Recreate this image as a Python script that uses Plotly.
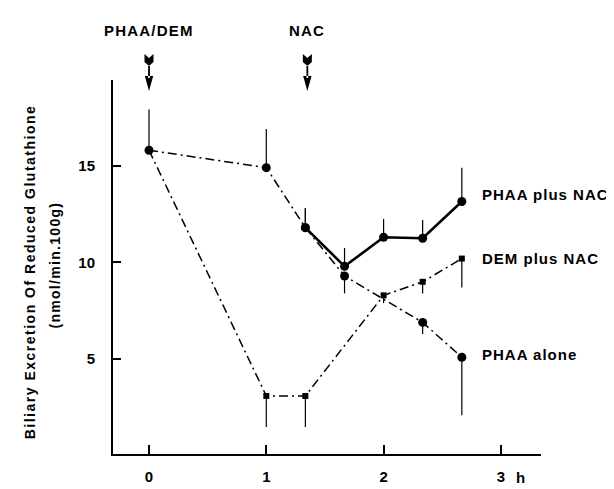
import plotly.graph_objects as go

# ---- data ----
t_alone = [0, 1, 1.333, 1.667, 2.333, 2.667]
y_alone = [15.8, 14.9, 11.8, 9.3, 6.9, 5.1]
alone_plus = [2.1, 2.0, 1.0, 0, 0, 0]
alone_minus = [0, 0, 0, 0.9, 0.6, 3.0]

t_nac = [1.333, 1.667, 2.0, 2.333, 2.667]
y_nac = [11.8, 9.8, 11.3, 11.25, 13.15]
nac_plus = [1.0, 0.95, 0.95, 0.95, 1.75]
nac_minus = [0, 0, 0, 0, 0]

t_dem = [0, 1, 1.333, 2.0, 2.333, 2.667]
y_dem = [15.8, 3.1, 3.1, 8.3, 9.0, 10.2]
dem_plus = [0, 0, 0, 0, 0, 0]
dem_minus = [0, 1.6, 1.6, 0.4, 0.6, 1.5]

x_ticks = [0, 1, 2, 3]
x_ticklabels = ["0", "1", "2", "3"]
y_ticks = [5, 10, 15]
y_ticklabels = ["5", "10", "15"]

series_labels = {"PHAA plus NAC": 13.5, "DEM plus NAC": 10.2, "PHAA alone": 5.25}
events = {"PHAA/DEM": 0, "NAC": 1.35}

# ---- layout constants ----
W, H = 614, 489
L, R, T, B = 105, 81, 72, 28
plot_h = H - T - B
FONT = "Liberation Sans"

def spaced(txt, sp=1.3):
    return f'<span style="letter-spacing:{sp}px">{txt}</span>'

fig = go.Figure()
dashdot = "9px,4px,2px,4px"

fig.add_trace(go.Scatter(
    x=t_dem, y=y_dem, mode="lines+markers",
    line=dict(color="black", width=1.5, dash=dashdot),
    marker=dict(symbol="square", size=6, color="black"),
    error_y=dict(type="data", symmetric=False, array=dem_plus, arrayminus=dem_minus,
                 width=0, thickness=1.2, color="black"),
    showlegend=False))

fig.add_trace(go.Scatter(
    x=t_alone, y=y_alone, mode="lines+markers",
    line=dict(color="black", width=1.5, dash=dashdot),
    marker=dict(symbol="circle", size=9, color="black"),
    error_y=dict(type="data", symmetric=False, array=alone_plus, arrayminus=alone_minus,
                 width=0, thickness=1.2, color="black"),
    showlegend=False))

fig.add_trace(go.Scatter(
    x=t_nac, y=y_nac, mode="lines+markers",
    line=dict(color="black", width=2.6),
    marker=dict(symbol="circle", size=9, color="black"),
    error_y=dict(type="data", symmetric=False, array=nac_plus, arrayminus=nac_minus,
                 width=0, thickness=1.2, color="black"),
    showlegend=False))

bold = dict(family=FONT, size=15, color="black", weight="bold")

annotations = []
for txt, yv in series_labels.items():
    annotations.append(dict(x=2.82, y=yv, xref="x", yref="y", text=spaced(txt, 1.0),
                            showarrow=False, xanchor="left", yanchor="middle", font=bold))

def paper_y(py):
    return (H - B - py) / plot_h

def paper_x(px):
    return (px - L) / (W - L - R)

shapes = []
# arrow outline offsets in pixels (y measured downward from the arrow's top)
fletch = [(-4.5, 0), (0, 4), (4.5, 0), (4.5, 8), (0, 12), (-4.5, 8)]
shaft = [(-0.9, 11), (0.9, 11), (0.9, 24), (-0.9, 24)]
head = [(-4.2, 22), (4.2, 22), (0, 37)]

def poly(pts):
    return "M" + " L".join(f"{x},{-y}" for x, y in pts) + " Z"

for txt, xv in events.items():
    annotations.append(dict(x=xv, y=paper_y(21), xref="x", yref="paper", text=spaced(txt, 1.2),
                            showarrow=False, xanchor="center", yanchor="middle", font=bold))
    shapes.append(dict(type="path", xref="x", yref="paper", xsizemode="pixel",
                       ysizemode="pixel", xanchor=xv, yanchor=paper_y(45),
                       path=poly(fletch) + " " + poly(shaft) + " " + poly(head),
                       fillcolor="black", line=dict(width=0)))

annotations.append(dict(x=3.17, y=paper_y(485), xref="x", yref="paper", text="h",
                        showarrow=False, xanchor="center", yanchor="middle", font=bold))

annotations.append(dict(x=paper_x(22), y=paper_y(272), xref="paper", yref="paper",
                        text=spaced("Biliary Excretion Of Reduced Glutathione", 1.5),
                        textangle=-90, showarrow=False, xanchor="center", yanchor="middle",
                        font=dict(family=FONT, size=14, color="black", weight="bold")))
annotations.append(dict(x=paper_x(47), y=paper_y(265), xref="paper", yref="paper",
                        text=spaced("(nmol/min.100g)", 1.3), textangle=-90,
                        showarrow=False, xanchor="center", yanchor="middle",
                        font=dict(family=FONT, size=14, color="black", weight="bold")))

fig.update_layout(
    width=W, height=H,
    margin=dict(l=L, r=R, t=T, b=B),
    plot_bgcolor="white", paper_bgcolor="white",
    annotations=annotations, shapes=shapes,
    xaxis=dict(range=[-0.307, 3.342], tickvals=x_ticks, ticktext=x_ticklabels,
               showline=True, linecolor="black", linewidth=2, ticks="inside",
               ticklen=9, tickwidth=2, tickcolor="black", showgrid=False, zeroline=False,
               tickfont=bold, ticklabelstandoff=8),
    yaxis=dict(range=[0.1, 19.43], tickvals=y_ticks, ticktext=y_ticklabels,
               showline=True, linecolor="black", linewidth=2, ticks="inside",
               ticklen=8, tickwidth=2, tickcolor="black", showgrid=False, zeroline=False,
               tickfont=bold, ticklabelstandoff=13),
)

fig.write_html("out.html")
